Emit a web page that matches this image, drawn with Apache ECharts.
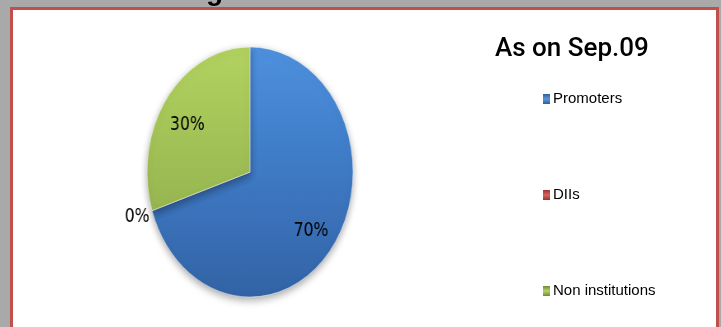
<!DOCTYPE html>
<html><head><meta charset="utf-8">
<script src="https://cdn.jsdelivr.net/npm/echarts@6/dist/echarts.min.js"></script>
<style>
html,body{margin:0;padding:0;background:#a9a9a9;}
#wrap{position:relative;width:721px;height:327px;overflow:hidden;}
#bg{position:absolute;left:0;top:0;width:721px;height:327px;}
#pie{position:absolute;left:0;top:0;width:721px;height:327px;transform:scaleX(0.824);transform-origin:250px 172px;}
</style></head><body>
<div id="wrap"><div id="bg"></div><div id="pie"></div></div>
<script>
// ---- data ----
const categories = ['Promoters', 'DIIs', 'Non institutions'];
const shares = [70, 0, 30];
const titleText = 'As on Sep.09';
const partialHeading = 'g';

// ---- styles ----
function grad(stops) {
  return { type: 'linear', x: 0, y: 47, x2: 0, y2: 297, global: true,
    colorStops: stops.map((c, i) => ({ offset: i / (stops.length - 1), color: c })) };
}
const pieColors = [
  grad(['#4f91de', '#4281cd', '#3b72ba', '#3263a5']),
  grad(['#d0605c', '#c0504d', '#a84340']),
  grad(['#b2d260', '#a4c458', '#96b550', '#86a445'])
];
const legendColors = [
  { type: 'linear', x: 0, y: 0, x2: 0, y2: 1, colorStops: [{offset:0,color:'#2f5f9a'},{offset:0.5,color:'#5b96d8'},{offset:1,color:'#2f5f9a'}] },
  { type: 'linear', x: 0, y: 0, x2: 0, y2: 1, colorStops: [{offset:0,color:'#9a3431'},{offset:0.5,color:'#d8625e'},{offset:1,color:'#9a3431'}] },
  { type: 'linear', x: 0, y: 0, x2: 0, y2: 1, colorStops: [{offset:0,color:'#6e8a36'},{offset:0.5,color:'#b5d468'},{offset:1,color:'#6e8a36'}] }
];

// ---- background chart: frame, title, legend ----
const bg = echarts.init(document.getElementById('bg'), null, { renderer: 'canvas' });
bg.setOption({
  backgroundColor: '#a9a9a9',
  animation: false,
  graphic: [
    { type: 'rect', shape: { x: 11.5, y: 8.5, width: 706, height: 340 },
      style: { fill: '#ffffff', stroke: '#c0504d', lineWidth: 3 }, z: 0 },
    { type: 'text', x: 206, y: 6, style: { text: partialHeading, fill: '#000', font: 'bold 28px "Liberation Sans"', textVerticalAlign: 'bottom' }, z: 0 }
  ],
  title: {
    text: titleText, left: 495, top: 36, padding: 0,
    textStyle: { fontFamily: 'Roboto', fontSize: 26, fontWeight: 500, color: '#000' }
  },
  legend: {
    orient: 'vertical', left: 543, top: 91, padding: 0,
    itemWidth: 7, itemHeight: 10, itemGap: 80,
    icon: 'rect',
    textStyle: { fontFamily: 'Liberation Sans', fontSize: 15, color: '#000', lineHeight: 16, padding: [0, 0, 0, -2] },
    data: categories
  },
  series: [{
    type: 'pie', radius: 0, center: [-100, -100], silent: true,
    label: { show: false }, labelLine: { show: false },
    data: categories.map((n, i) => ({ name: n, value: shares[i], itemStyle: { color: legendColors[i] } }))
  }]
});

// ---- pie chart (horizontally scaled into an ellipse via CSS) ----
const pie = echarts.init(document.getElementById('pie'), null, { renderer: 'canvas' });
const labelFont = { fontFamily: 'DejaVu Sans', fontSize: 19, color: '#000' };
const labelShift = [[-2, 4], [2, 6], [0, 8]];
pie.setOption({
  animation: false,
  series: [
    {
      type: 'pie', center: [250, 172], radius: [0, 125], startAngle: 90, clockwise: true,
      silent: true, avoidLabelOverlap: false,
      label: { show: false }, labelLine: { show: false },
      itemStyle: { borderColor: 'rgba(255,255,255,0.45)', borderWidth: 1,
        shadowColor: 'rgba(0,0,0,0.35)', shadowBlur: 8, shadowOffsetY: 3 },
      data: categories.map((n, i) => ({ name: n, value: shares[i], itemStyle: { color: pieColors[i] } }))
    },
    {
      type: 'pie', center: [250, 172], radius: [57, 125], startAngle: 90, clockwise: true,
      silent: true, avoidLabelOverlap: false, z: 5,
      itemStyle: { color: 'rgba(0,0,0,0)' },
      labelLine: { show: false, length: 0, length2: 0 },
      label: Object.assign({ show: true, position: 'inside', formatter: '{c}%' }, labelFont),
      data: categories.map((n, i) => ({
        name: n, value: shares[i],
        label: Object.assign({ show: true, position: shares[i] === 0 ? 'outside' : 'inside',
          formatter: '{c}%', offset: labelShift[i] }, labelFont)
      }))
    }
  ]
});
</script>
</body></html>
